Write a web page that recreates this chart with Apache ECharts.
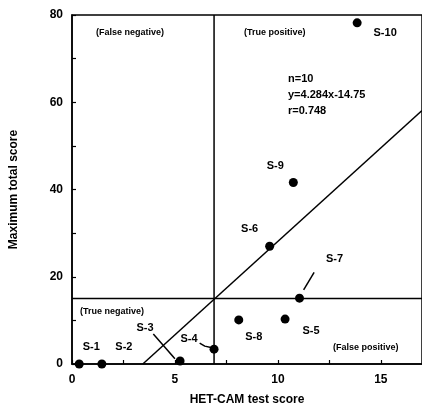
<!DOCTYPE html>
<html><head><meta charset="utf-8">
<script src="https://cdn.jsdelivr.net/npm/echarts@6/dist/echarts.min.js"></script>
<style>html,body{margin:0;padding:0;background:#fff}#c{width:422px;height:411px}</style>
</head><body><div id="c"></div>
<script>
// ---- data ----
var sampleNames = ['S-1','S-2','S-3','S-4','S-5','S-6','S-7','S-8','S-9','S-10'];
var hetCam      = [0.35, 1.45, 5.25, 6.9, 10.35, 9.6, 11.05, 8.1, 10.75, 13.85];
var maxScore    = [0, 0, 0.7, 3.4, 10.3, 27.0, 15.1, 10.1, 41.6, 78.2];
var fitLine     = [[3.44, 0], [17, 58.1]];           // y = 4.284x - 14.75
var cutX        = [[6.9, 0], [6.9, 80]];
var cutY        = [[0, 15], [17, 15]];
var leaderS3    = [[3.95, 6.9], [5.0, 1.2]];
var leaderS4    = [[6.2, 4.8], [6.45, 4.1], [6.75, 3.8]];
var leaderS7    = [[11.25, 17.0], [11.76, 21.0]];
var xTicks      = [0, 5, 10, 15];
var yTicks      = [0, 20, 40, 60, 80];
var statsText   = ['n=10', 'y=4.284x-14.75', 'r=0.748'];

// ---- layout / style ----
var labelOffsets = {
  'S-1':[12,-17], 'S-2':[22,-17], 'S-3':[-35,-33], 'S-4':[-25,-10], 'S-5':[26,12],
  'S-6':[-20,-17], 'S-7':[35,-39], 'S-8':[15,17], 'S-9':[-18,-17], 'S-10':[28,10]
};
var F = 'Liberation Sans, Arial, sans-serif';
var chart = echarts.init(document.getElementById('c'), null, {renderer:'canvas'});
var pts = sampleNames.map(function(n,i){
  return {name:n, value:[hetCam[i], maxScore[i]],
    label:{show:true, formatter:'{b}', offset:labelOffsets[n], color:'#000',
      fontFamily:F, fontWeight:'bold', fontSize:11}};
});
function lineSeries(d){
  return {type:'line', data:d, symbol:'none', silent:true,
    lineStyle:{color:'#000', width:1.5}, z:2};
}
var txt = function(x,y,t,fs,ta){return {type:'text', left:x, top:y,
  style:{text:t, fill:'#000', font:'bold '+fs+'px '+F, textAlign:ta||'left'}};};
chart.setOption({
  animation:false,
  grid:{left:67, top:15, width:357, height:350, show:true, borderColor:'#000', borderWidth:1.5},
  xAxis:{type:'value', min:0, max:17, interval:5,
    axisLine:{show:true, onZero:false, lineStyle:{color:'#000', width:1.5}},
    axisTick:{show:true, inside:true, length:4, lineStyle:{color:'#000', width:1.2}},
    minorTick:{show:true, splitNumber:2, length:4, lineStyle:{color:'#000', width:1.2}},
    splitLine:{show:false},
    axisLabel:{margin:10, color:'#000', fontFamily:F, fontWeight:'bold', fontSize:12, showMaxLabel:false,
      formatter:function(v){return xTicks.indexOf(v)>=0 ? String(v) : '';}},
    name:'HET-CAM test score', nameLocation:'middle', nameGap:30,
    nameTextStyle:{color:'#000', fontFamily:F, fontWeight:'bold', fontSize:12}
  },
  yAxis:{type:'value', min:0, max:80, interval:20,
    axisLine:{show:true, onZero:false, lineStyle:{color:'#000', width:1.5}},
    axisTick:{show:true, inside:true, length:4, lineStyle:{color:'#000', width:1.2}},
    minorTick:{show:true, splitNumber:2, length:4, lineStyle:{color:'#000', width:1.2}},
    splitLine:{show:false},
    axisLabel:{margin:9, color:'#000', fontFamily:F, fontWeight:'bold', fontSize:12,
      formatter:function(v){return yTicks.indexOf(v)>=0 ? String(v) : '';}},
    name:'Maximum total score', nameLocation:'middle', nameGap:52,
    nameTextStyle:{color:'#000', fontFamily:F, fontWeight:'bold', fontSize:12}
  },
  series:[
    lineSeries(fitLine), lineSeries(cutX), lineSeries(cutY),
    lineSeries(leaderS3), lineSeries(leaderS4), lineSeries(leaderS7),
    {type:'scatter', data:pts, symbol:'circle', symbolSize:9,
      itemStyle:{color:'#000', opacity:1}, z:5}
  ],
  graphic:[
    txt(96,28,'(False negative)',9),
    txt(244,28,'(True positive)',9),
    txt(80,307,'(True negative)',9),
    txt(333,343,'(False positive)',9),
    txt(288,73,statsText[0],11),
    txt(288,89,statsText[1],11),
    txt(288,105,statsText[2],11)
  ]
});
</script></body></html>
